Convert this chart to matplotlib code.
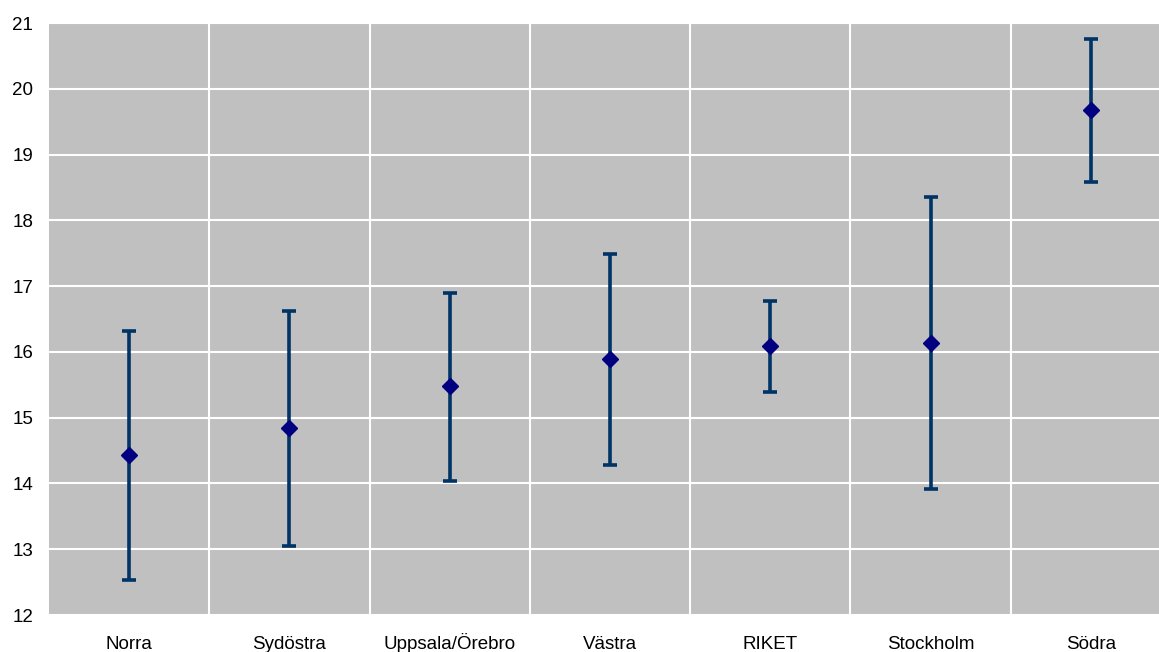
import numpy as np
import matplotlib
matplotlib.use("Agg")
import matplotlib.pyplot as plt

# regional means with confidence interval bounds
regions = ["Norra", "Sydöstra", "Uppsala/Örebro", "Västra", "RIKET", "Stockholm", "Södra"]
mean = [14.43, 14.84, 15.48, 15.89, 16.09, 16.14, 19.67]
upper = [16.32, 16.62, 16.89, 17.49, 16.78, 18.35, 20.75]
lower = [12.53, 13.05, 14.04, 14.28, 15.39, 13.92, 18.59]

plt.rcParams['font.family'] = ['Liberation Sans', 'DejaVu Sans']

W, H = 1159, 652
fig = plt.figure(figsize=(W / 100, H / 100), dpi=100)
# plot area runs slightly past the right edge of the figure
ax = fig.add_axes([49 / W, (H - 615) / H, 1122 / W, 592 / H])
ax.set_facecolor("#c0c0c0")

x = np.arange(len(regions))
m = np.array(mean)
yerr = np.vstack([m - np.array(lower), np.array(upper) - m])
ax.errorbar(x, m, yerr=yerr, fmt="none", ecolor="#003366", elinewidth=2.6,
            capsize=5, capthick=2.6, zorder=3)
ax.plot(x, m, "D", color="#000080", markersize=8, linestyle="none", zorder=4)

ax.set_xlim(-0.5, len(regions) - 0.5)
ax.set_ylim(12, 21)
ax.set_yticks(np.arange(12, 22, 1))
ax.set_xticks(x)
ax.set_xticklabels(regions)
ax.set_xticks(np.arange(0.5, len(regions) - 0.5, 1), minor=True)

ax.grid(True, which="major", axis="y", color="white", linewidth=1.5)
ax.grid(True, which="minor", axis="x", color="white", linewidth=1.5)
ax.set_axisbelow(True)
for s in ax.spines.values():
    s.set_visible(False)
ax.tick_params(axis="both", which="both", length=0, labelsize=13.5, colors="black")
ax.tick_params(axis="y", pad=11.5)
ax.tick_params(axis="x", pad=24.5)
# keep category names on a common baseline
for lbl in ax.get_xticklabels():
    lbl.set_verticalalignment("baseline")

fig.savefig("out.png", dpi=100)
